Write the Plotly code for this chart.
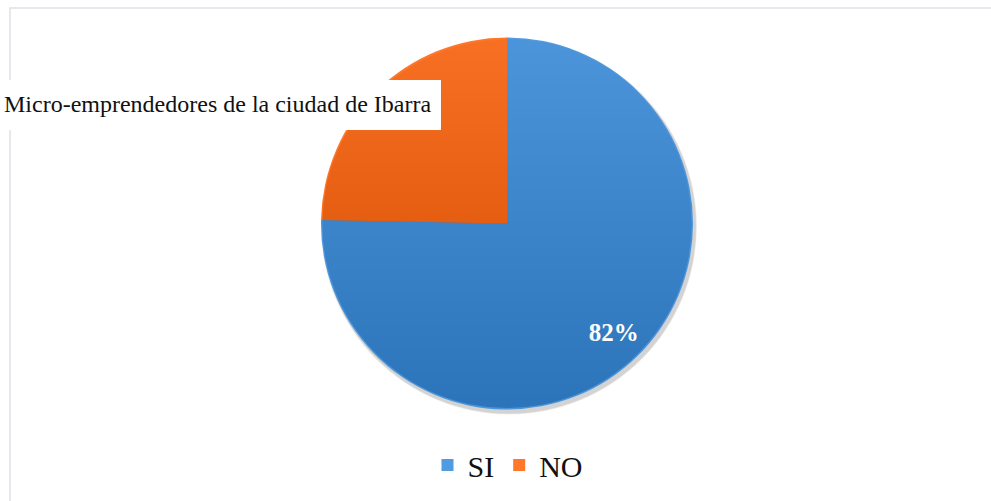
import base64
import plotly.graph_objects as go

# ---- data ----
categories = ["SI", "NO"]
shares = [75.3, 24.7]
data_labels = ["82%", ""]
slice_colors = ["rgba(52,138,218,0.85)", "rgba(255,92,0,0.83)"]
title_text = "Micro-emprendedores de la ciudad de Ibarra"

W, H = 991, 501

def px(x):
    return x / W

def py(y):
    return 1 - y / H

cx, cy, r = 507, 223.5, 186
pie_domain = dict(x=[px(cx - r), px(cx + r)], y=[py(cy + r), py(cy - r)])

fig = go.Figure()
# the slices
fig.add_trace(go.Pie(
    labels=categories,
    values=shares,
    textinfo="none",
    marker=dict(colors=slice_colors, line=dict(width=0)),
    sort=False,
    direction="clockwise",
    rotation=0,
    domain=pie_domain,
    hoverinfo="label+percent",
))
# same data, transparent ring only used to place the data label further out
fig.add_trace(go.Pie(
    labels=categories,
    values=shares,
    text=data_labels,
    textinfo="text",
    textposition="inside",
    insidetextorientation="horizontal",
    textfont=dict(family="Liberation Serif", size=25, color="white", weight="bold"),
    marker=dict(colors=["rgba(0,0,0,0)", "rgba(0,0,0,0)"], line=dict(width=0)),
    hole=0.64,
    sort=False,
    direction="clockwise",
    rotation=0,
    domain=pie_domain,
    showlegend=False,
    hoverinfo="skip",
))

# soft shadow circles (decorative)
shapes = []
for d, op in [(4, 0.05), (3, 0.06), (2, 0.07)]:
    shapes.append(dict(type="circle", xref="paper", yref="paper", layer="below",
                       x0=px(cx - r + 2 - d / 2), x1=px(cx + r + 2 + d / 2),
                       y0=py(cy + r + 3 + d / 2), y1=py(cy - r + 3 - d / 2),
                       fillcolor=f"rgba(0,0,0,{op})", line=dict(width=0)))
# chart border
shapes.append(dict(type="rect", xref="paper", yref="paper", layer="below",
                   x0=px(10), x1=px(1010), y0=py(520), y1=py(8),
                   line=dict(color="#dde1e8", width=1.5), fillcolor="rgba(0,0,0,0)"))
# white text box
shapes.append(dict(type="rect", xref="paper", yref="paper", layer="above",
                   x0=px(-5), x1=px(441), y0=py(130), y1=py(80),
                   line=dict(width=0), fillcolor="white"))

# vertical gradient behind the semi-transparent pie (decorative shading)
svg = ('<svg xmlns="http://www.w3.org/2000/svg" width="400" height="400" viewBox="0 0 400 400">'
       '<defs><linearGradient id="g" x1="0" y1="0" x2="0" y2="1">'
       '<stop offset="0" stop-color="#000" stop-opacity="0"/>'
       '<stop offset="1" stop-color="#000" stop-opacity="1"/>'
       '</linearGradient></defs>'
       '<circle cx="200" cy="200" r="198.5" fill="url(#g)"/></svg>')
src = "data:image/svg+xml;base64," + base64.b64encode(svg.encode()).decode()

fig.update_layout(
    width=W, height=H,
    margin=dict(l=0, r=0, t=0, b=0),
    paper_bgcolor="white",
    plot_bgcolor="white",
    shapes=shapes,
    images=[dict(source=src, xref="paper", yref="paper",
                 x=px(cx - r), y=py(cy - r), sizex=2 * r / W, sizey=2 * r / H,
                 xanchor="left", yanchor="top", sizing="stretch", layer="below")],
    annotations=[dict(text=title_text, xref="paper", yref="paper",
                      x=px(2), y=py(104), xanchor="left", yanchor="middle",
                      showarrow=False,
                      font=dict(family="Liberation Serif", size=24, color="#111"))],
    showlegend=True,
    legend=dict(orientation="h", x=px(508), xanchor="center", y=py(465), yanchor="middle",
                font=dict(family="Liberation Serif", size=30, color="#111"),
                itemwidth=30, traceorder="normal"),
)

fig.write_html("out.html", config={"displayModeBar": False},
               post_script="document.body.style.margin='0';document.body.style.overflow='hidden';")
